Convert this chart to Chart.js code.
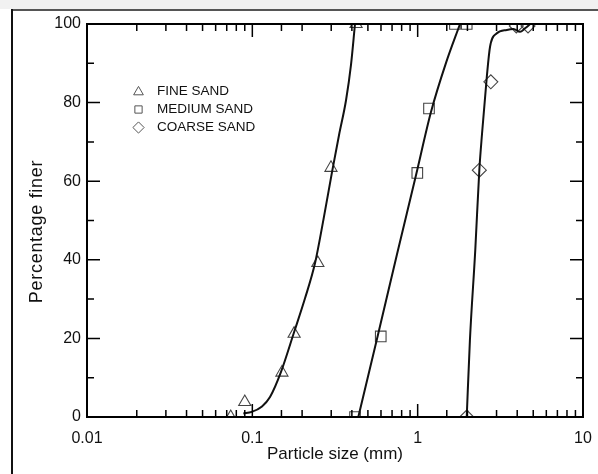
<!DOCTYPE html>
<html>
<head>
<meta charset="utf-8">
<script src="https://cdn.jsdelivr.net/npm/chart.js@4.4.1/dist/chart.umd.min.js"></script>
<style>
    body { margin: 0; background: #fff; }
    .wrap { position: relative; width: 598px; height: 474px; overflow: hidden; }
    .band { position: absolute; left: 0; top: 0; width: 598px; height: 9px; background: #f1f1f1; }
    .topline { position: absolute; left: 11px; top: 9px; width: 587px; height: 2px; background: #555; }
    .leftline { position: absolute; left: 11px; top: 9px; width: 2px; height: 465px; background: #111; }
    canvas { position: absolute; left: 0; top: 0; }
</style>
</head>
<body>
<div class="wrap">
    <div class="band"></div>
    <div class="topline"></div>
    <div class="leftline"></div>
    <canvas id="gradationChart" width="598" height="474"></canvas>
</div>
<script>
// measured points (mm, % finer)
const fineSizes = [0.074, 0.090, 0.151, 0.179, 0.249, 0.299, 0.424];
const finePassing = [0, 3.8, 11.3, 21.2, 39.2, 63.4, 100];
const mediumSizes = [0.418, 0.598, 0.995, 1.171, 1.68, 1.98];
const mediumPassing = [0, 20.5, 62.1, 78.5, 100, 100];
const coarseSizes = [1.98, 2.36, 2.77, 3.95, 4.65];
const coarsePassing = [0, 62.8, 85.3, 99.5, 99.5];

// fitted curves
const fineCurveSizes = [0.0882, 0.0991, 0.1144, 0.1279, 0.1491, 0.1786, 0.2083, 0.2393, 0.2694, 0.3033, 0.3343, 0.3687, 0.3951, 0.4178];
const fineCurvePassing = [0.9, 1.3, 2.7, 5.1, 11.5, 21.5, 30.2, 39.1, 50.3, 62.3, 71.7, 80.6, 89.6, 100];
const mediumCurveSizes = [0.4375, 0.5716, 0.7499, 0.9768, 1.2036, 1.4839, 1.804];
const mediumCurvePassing = [0, 20.4, 41.4, 61.5, 77.6, 90.1, 100];
const coarseCurveSizes = [1.98, 2.07, 2.23, 2.36, 2.45, 2.62, 2.74, 3.0, 3.46, 3.8, 4.16, 4.46, 4.8];
const coarseCurvePassing = [0, 19.5, 42.4, 62.8, 72.0, 86.6, 94.2, 97.6, 98.5, 98.7, 98.0, 98.9, 100];

const xLabels = [0.01, 0.1, 1, 10];
const yLabels = [0, 20, 40, 60, 80, 100];
const legendNames = ['FINE SAND', 'MEDIUM SAND', 'COARSE SAND'];
const markerStyles = ['triangle', 'rect', 'rectRot'];
const yTitle = 'Percentage finer';
const fontFamily = '"Liberation Sans", Arial, sans-serif';

const pairs = (xs, ys) => xs.map((x, i) => ({ x: x, y: ys[i] }));
const isDecade = v => Math.abs(Math.log10(v) - Math.round(Math.log10(v))) < 1e-6;

function markerSet(label, xs, ys, style) {
    return {
        label: label,
        data: pairs(xs, ys),
        showLine: false,
        pointStyle: style,
        pointRadius: style === 'rect' ? 7.5 : 7,
        pointBorderColor: '#444',
        pointBackgroundColor: 'rgba(0,0,0,0)',
        pointBorderWidth: 1.1
    };
}

function curveSet(xs, ys) {
    return {
        data: pairs(xs, ys),
        showLine: true,
        pointRadius: 0,
        borderColor: '#111',
        borderWidth: 2,
        cubicInterpolationMode: 'monotone'
    };
}

function drawMarker(ctx, style, cx, cy, r) {
    ctx.beginPath();
    if (style === 'triangle') {
        ctx.moveTo(cx, cy - r);
        ctx.lineTo(cx - r * 0.866, cy + r / 2);
        ctx.lineTo(cx + r * 0.866, cy + r / 2);
        ctx.closePath();
    } else if (style === 'rect') {
        ctx.rect(cx - r * 0.7, cy - r * 0.7, r * 1.4, r * 1.4);
    } else {
        ctx.moveTo(cx, cy - r);
        ctx.lineTo(cx + r, cy);
        ctx.lineTo(cx, cy + r);
        ctx.lineTo(cx - r, cy);
        ctx.closePath();
    }
    ctx.stroke();
}

// inward ticks, plot frame, y title and the inset legend
const frameAndLegend = {
    id: 'frameAndLegend',
    afterDraw(chart) {
        const { ctx, chartArea: a, scales: { x, y } } = chart;
        ctx.save();
        ctx.strokeStyle = '#000';
        ctx.lineWidth = 1.5;
        ctx.beginPath();
        x.ticks.forEach(t => {
            const px = x.getPixelForValue(t.value);
            const len = isDecade(t.value) ? 13 : 7;
            ctx.moveTo(px, a.bottom); ctx.lineTo(px, a.bottom - len);
            ctx.moveTo(px, a.top); ctx.lineTo(px, a.top + len);
        });
        y.ticks.forEach(t => {
            const py = y.getPixelForValue(t.value);
            const len = t.value % 20 === 0 ? 13 : 7;
            ctx.moveTo(a.left, py); ctx.lineTo(a.left + len, py);
            ctx.moveTo(a.right, py); ctx.lineTo(a.right - len, py);
        });
        ctx.stroke();
        ctx.lineWidth = 2;
        ctx.strokeRect(a.left, a.top, a.right - a.left, a.bottom - a.top);

        // y axis title, a little below the plot middle as in the figure
        ctx.save();
        ctx.translate(37, 231.5);
        ctx.rotate(-Math.PI / 2);
        ctx.fillStyle = '#111';
        ctx.font = '18px ' + fontFamily;
        ctx.letterSpacing = '0.7px';
        ctx.textAlign = 'center';
        ctx.textBaseline = 'middle';
        ctx.fillText(yTitle, 0, 0);
        ctx.restore();

        const rows = [91, 109.5, 127.5];
        ctx.strokeStyle = '#555';
        ctx.lineWidth = 1;
        ctx.fillStyle = '#111';
        ctx.font = '13.5px ' + fontFamily;
        ctx.textBaseline = 'middle';
        legendNames.forEach((name, i) => {
            drawMarker(ctx, markerStyles[i], 138.5, rows[i] + (i === 0 ? 1 : 0), i === 1 ? 5.2 : 5.6);
            ctx.fillText(name, 157, rows[i]);
        });
        ctx.restore();
    }
};

const ctx = document.getElementById('gradationChart').getContext('2d');
new Chart(ctx, {
    type: 'scatter',
    data: {
        datasets: [
            curveSet(fineCurveSizes, fineCurvePassing),
            curveSet(mediumCurveSizes, mediumCurvePassing),
            curveSet(coarseCurveSizes, coarseCurvePassing),
            markerSet(legendNames[0], fineSizes, finePassing, markerStyles[0]),
            markerSet(legendNames[1], mediumSizes, mediumPassing, markerStyles[1]),
            markerSet(legendNames[2], coarseSizes, coarsePassing, markerStyles[2])
        ]
    },
    options: {
        responsive: false,
        animation: false,
        layout: {
            padding: { left: 0, top: 24, right: 15, bottom: 4 }
        },
        plugins: {
            legend: { display: false },
            tooltip: { enabled: false }
        },
        scales: {
            x: {
                type: 'logarithmic',
                position: 'bottom',
                min: 0.01,
                max: 10,
                grid: { display: false, drawTicks: false },
                border: { display: false },
                afterFit: scale => {
                    scale.height = 53;
                    scale.paddingLeft = 0;
                    scale.paddingRight = 0;
                },
                ticks: {
                    autoSkip: false,
                    maxRotation: 0,
                    padding: 12,
                    color: '#111',
                    font: { family: fontFamily, size: 16 },
                    callback: v => xLabels.some(l => Math.abs(l - v) < l * 1e-6) ? String(v) : ''
                },
                title: {
                    display: true,
                    text: 'Particle size (mm)',
                    color: '#111',
                    font: { family: fontFamily, size: 17 },
                    padding: { top: 0, bottom: 5 }
                }
            },
            y: {
                min: 0,
                max: 100,
                grid: { display: false, drawTicks: false },
                border: { display: false },
                afterFit: scale => {
                    scale.width = 87;
                    scale.paddingTop = 0;
                    scale.paddingBottom = 0;
                },
                ticks: {
                    stepSize: 10,
                    padding: 6,
                    color: '#111',
                    font: { family: fontFamily, size: 16 },
                    callback: v => yLabels.includes(v) ? String(v) : ''
                },
                title: { display: false }
            }
        }
    },
    plugins: [frameAndLegend]
});
</script>
</body>
</html>
